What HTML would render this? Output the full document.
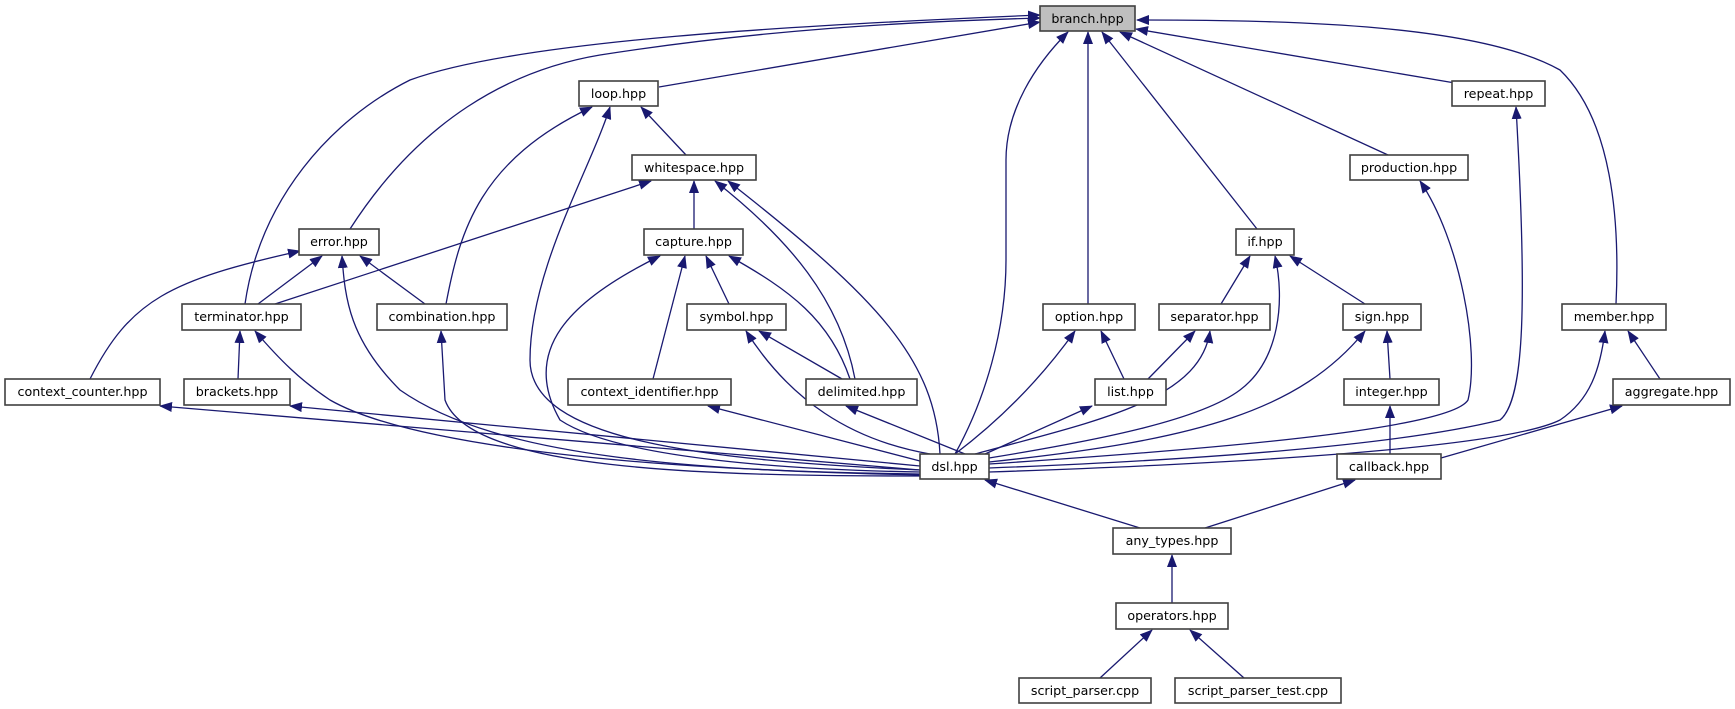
<!DOCTYPE html>
<html><head><meta charset="utf-8"><style>
html,body{margin:0;padding:0;background:#fff}
svg{display:block}
text{font-family:"DejaVu Sans","Liberation Sans",sans-serif;font-size:12.7px;fill:#000}
.n{fill:#fff;stroke:#404040;stroke-width:1.6}
.e{fill:none;stroke:#191970;stroke-width:1.3}
</style></head><body>
<svg width="1735" height="709" viewBox="0 0 1735 709" xmlns="http://www.w3.org/2000/svg">
<defs>
<marker id="a" markerWidth="13" markerHeight="10" refX="12" refY="5" orient="auto" markerUnits="userSpaceOnUse">
<path d="M0,0 L13,5 L0,10 z" fill="#191970"/></marker>
</defs>
<g class="e" marker-end="url(#a)">
<path d="M659,87 L1040,22"/>
<path d="M350,229 C420,120 510,70 600,55 C760,30 900,22 1040,18"/>
<path d="M245,304 C260,200 330,120 410,80 C520,40 800,25 1040,15"/>
<path d="M955,454 C985,400 1006,330 1006,260 L1006,160 C1006,110 1035,65 1068,32"/>
<path d="M1088,304 L1088,32"/>
<path d="M1257,229 L1102,32"/>
<path d="M1388,155 L1120,32"/>
<path d="M1455,83 L1136,29"/>
<path d="M1616,304 C1620,220 1612,120 1560,70 C1480,25 1300,20 1137,20"/>
<path d="M686,155 L641,107"/>
<path d="M446,304 C460,230 480,160 592,107"/>
<path d="M920,470 C700,460 530,440 530,360 C530,270 590,170 610,107"/>
<path d="M694,229 L694,181"/>
<path d="M275,304 L651,181"/>
<path d="M855,379 C840,300 790,240 715,181"/>
<path d="M940,454 C935,360 880,300 728,181"/>
<path d="M90,379 C130,300 170,280 300,251"/>
<path d="M258,304 L322,256"/>
<path d="M425,304 L360,256"/>
<path d="M920,475 C700,470 500,460 400,390 C350,340 345,300 342,256"/>
<path d="M729,304 L706,256"/>
<path d="M653,379 L685,256"/>
<path d="M850,379 C830,320 790,290 729,256"/>
<path d="M920,472 C800,470 620,460 560,420 C520,350 570,300 660,256"/>
<path d="M238,379 L240,331"/>
<path d="M920,474 C600,470 400,440 330,400 C300,380 280,360 255,331"/>
<path d="M920,476 C700,476 470,470 445,400 L441,331"/>
<path d="M842,379 L759,331"/>
<path d="M930,454 C850,440 790,400 746,331"/>
<path d="M965,454 L846,406"/>
<path d="M920,461 L708,406"/>
<path d="M920,470 L160,406"/>
<path d="M920,466 L290,406"/>
<path d="M1124,379 L1101,331"/>
<path d="M955,454 C1000,420 1040,380 1075,331"/>
<path d="M1148,379 L1195,331"/>
<path d="M975,454 C1100,420 1200,400 1210,331"/>
<path d="M1221,304 L1250,256"/>
<path d="M1365,304 L1290,256"/>
<path d="M989,458 C1100,440 1200,420 1240,390 C1280,360 1285,300 1275,256"/>
<path d="M1390,379 L1387,331"/>
<path d="M989,462 C1200,440 1300,410 1365,331"/>
<path d="M985,454 L1092,406"/>
<path d="M989,464 C1200,450 1450,430 1468,400 C1480,350 1460,240 1420,181"/>
<path d="M989,468 C1200,460 1400,445 1500,420 C1525,400 1527,300 1516,107"/>
<path d="M989,472 C1200,465 1500,450 1560,420 C1590,400 1600,370 1605,331"/>
<path d="M1660,379 L1628,331"/>
<path d="M1441,458 L1622,406"/>
<path d="M1390,454 L1390,406"/>
<path d="M1140,528 L985,480"/>
<path d="M1205,528 L1355,480"/>
<path d="M1172,603 L1172,555"/>
<path d="M1100,678 L1152,630"/>
<path d="M1244,678 L1190,630"/>
</g>
<g>
<rect x="1040" y="6" width="95" height="25" fill="#bfbfbf" stroke="#404040" stroke-width="1.6"/><text x="1087.5" y="23" text-anchor="middle">branch.hpp</text>
<rect class="n" x="579" y="81" width="79" height="25"/><text x="618.5" y="98" text-anchor="middle">loop.hpp</text>
<rect class="n" x="1452" y="81" width="93" height="25"/><text x="1498.5" y="98" text-anchor="middle">repeat.hpp</text>
<rect class="n" x="632" y="155" width="124" height="25"/><text x="694" y="172" text-anchor="middle">whitespace.hpp</text>
<rect class="n" x="1350" y="155" width="118" height="25"/><text x="1409" y="172" text-anchor="middle">production.hpp</text>
<rect class="n" x="299" y="229" width="80" height="26"/><text x="339" y="246" text-anchor="middle">error.hpp</text>
<rect class="n" x="644" y="229" width="99" height="26"/><text x="693.5" y="246" text-anchor="middle">capture.hpp</text>
<rect class="n" x="1236" y="229" width="58" height="26"/><text x="1265" y="246" text-anchor="middle">if.hpp</text>
<rect class="n" x="182" y="304" width="119" height="26"/><text x="241.5" y="321" text-anchor="middle">terminator.hpp</text>
<rect class="n" x="377" y="304" width="130" height="26"/><text x="442" y="321" text-anchor="middle">combination.hpp</text>
<rect class="n" x="687" y="304" width="99" height="26"/><text x="736.5" y="321" text-anchor="middle">symbol.hpp</text>
<rect class="n" x="1043" y="304" width="92" height="26"/><text x="1089" y="321" text-anchor="middle">option.hpp</text>
<rect class="n" x="1159" y="304" width="111" height="26"/><text x="1214.5" y="321" text-anchor="middle">separator.hpp</text>
<rect class="n" x="1343" y="304" width="78" height="26"/><text x="1382" y="321" text-anchor="middle">sign.hpp</text>
<rect class="n" x="1562" y="304" width="104" height="26"/><text x="1614" y="321" text-anchor="middle">member.hpp</text>
<rect class="n" x="5" y="379" width="155" height="26"/><text x="82.5" y="396" text-anchor="middle">context_counter.hpp</text>
<rect class="n" x="184" y="379" width="106" height="26"/><text x="237" y="396" text-anchor="middle">brackets.hpp</text>
<rect class="n" x="568" y="379" width="163" height="26"/><text x="649.5" y="396" text-anchor="middle">context_identifier.hpp</text>
<rect class="n" x="806" y="379" width="111" height="26"/><text x="861.5" y="396" text-anchor="middle">delimited.hpp</text>
<rect class="n" x="1095" y="379" width="71" height="26"/><text x="1130.5" y="396" text-anchor="middle">list.hpp</text>
<rect class="n" x="1344" y="379" width="95" height="26"/><text x="1391.5" y="396" text-anchor="middle">integer.hpp</text>
<rect class="n" x="1613" y="379" width="117" height="26"/><text x="1671.5" y="396" text-anchor="middle">aggregate.hpp</text>
<rect class="n" x="920" y="454" width="69" height="25"/><text x="954.5" y="471" text-anchor="middle">dsl.hpp</text>
<rect class="n" x="1337" y="454" width="104" height="25"/><text x="1389" y="471" text-anchor="middle">callback.hpp</text>
<rect class="n" x="1113" y="528" width="118" height="26"/><text x="1172" y="545" text-anchor="middle">any_types.hpp</text>
<rect class="n" x="1116" y="603" width="112" height="26"/><text x="1172" y="620" text-anchor="middle">operators.hpp</text>
<rect class="n" x="1019" y="678" width="132" height="25"/><text x="1085" y="695" text-anchor="middle">script_parser.cpp</text>
<rect class="n" x="1175" y="678" width="166" height="25"/><text x="1258" y="695" text-anchor="middle">script_parser_test.cpp</text>
</g>
</svg>
</body></html>
